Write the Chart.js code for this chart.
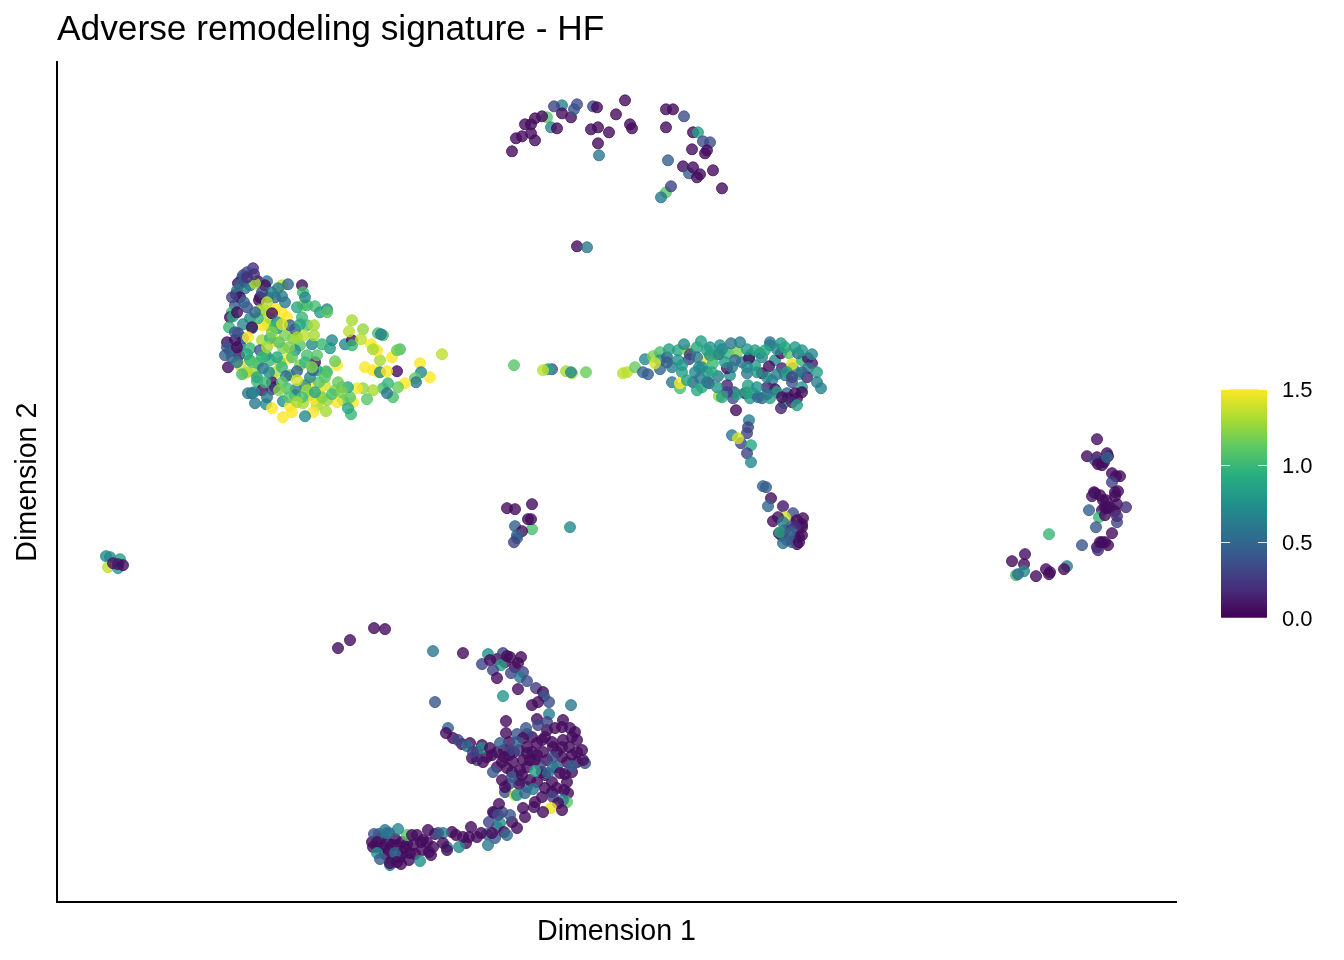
<!DOCTYPE html>
<html>
<head>
<meta charset="utf-8">
<title>Adverse remodeling signature - HF</title>
<script src="https://cdn.jsdelivr.net/npm/chart.js@4/dist/chart.umd.js"></script>
<style>
  body { margin: 0; background: #fff; }
  #wrap { position: relative; width: 1344px; height: 960px; overflow: hidden; }
  #umap { position: absolute; left: 0; top: 0; }
  #colorbar { position: absolute; left: 1200px; top: 361px; }
</style>
</head>
<body>
<div id="wrap">
  <canvas id="umap" width="1344" height="960"></canvas>
  <canvas id="colorbar" width="144" height="285"></canvas>
</div>
<script>
// Values. The axes have no numbers, so the units are arbitrary.
const chartTitle = 'Adverse remodeling signature - HF';
const xTitle = 'Dimension 1';
const yTitle = 'Dimension 2';
const legendTicks = [0, 0.5, 1, 1.5];

// large cluster on the left
const leftX = [211,243,228,213,198,233,263,278,253,238,268,243,205,213,183,193,
  385,363,373,364,358,359,348,340,335,343,340,323,321,308,316,323,330,336,341,326,331,330,316,306,310,300,296,293,286,294,291,291,285,280,281,270,269,260,256,257,262,253,262,269,260,280,278,273,275,288,295,295,292,295,306,304,314,320,316,321,326,324,
  258,253,255,250,257,257,247,236,238,250,260,265,270,246,258,263,270,270,250,245,246,248,
  196,190,185,186,193,188,181,179,178,190,201,210,208,198,203,211,202,225,231,225,221,203,208,218,225,230,215,175,173,176,193,186,201,195,195,220,220,218,233,238,181,186,178,170,191,205,218,213,226,193,203,173,168,182,209,231,223,171,183,188,190,185,201,206,218,225,240,256,229,200,215,218,205,215,195,191,239,230,248,198,209,215,226,233,226,248,246];
const leftY = [577,557,567,542,530,527,502,512,507,507,517,537,577,584,557,542,
  548,539,525,530,524,520,519,531,545,553,552,542,530,535,532,530,531,505,515,514,519,509,512,514,503,514,500,505,502,488,494,515,515,500,520,502,491,497,490,503,510,519,520,531,532,537,541,554,562,558,562,557,571,582,573,563,558,552,553,569,567,568,
  540,525,558,577,577,567,567,564,552,547,547,558,530,597,596,590,593,590,597,617,610,605,
  634,630,624,627,617,614,619,608,597,595,621,621,617,619,605,605,602,617,618,606,614,592,592,594,590,585,589,590,585,586,584,578,584,574,575,580,574,575,577,573,569,564,562,560,565,562,561,564,554,554,552,551,547,547,547,544,540,535,537,529,530,528,539,534,530,535,531,532,526,521,520,515,512,513,509,509,513,514,517,499,498,494,501,496,485,486,499];
const leftV = [1.35,1.1,1.2,1,1.3,1.1,1.5,1.2,1,0.9,1.4,1.2,1.5,1.3,0.6,0.9,
  1.35,1.5,1.5,0.7,1.15,0.6,1.5,0.05,1.5,1.05,1.15,1.3,1.5,1.5,1.5,0.7,1.5,1.05,1.15,1.05,1,0.6,1.3,1.25,1.1,1.5,1.5,1.1,1.1,1,0.9,0.9,1.1,1.5,1.15,1.25,1.3,1.3,1.5,1.5,1.5,1.5,1.1,1.1,0.85,1.5,1.15,0.8,0.7,0.7,0.05,1,1.35,1.3,1.25,1.35,1.5,1.5,1.3,1.05,1.05,0.65,
  0.05,0.7,0.7,1.05,1.3,1.3,1.35,1.2,0.7,1.05,1.1,1,1.05,1.3,1.05,0.85,0.7,1.1,1,0.05,1.05,0.7,
  0.2,0.35,0.6,0.35,0.6,0.65,0.05,0.05,0.4,0.35,0.05,0.6,0.05,1.3,0.05,0.4,0.05,1.35,0.5,0.6,0.65,1.3,1.3,1.5,1.5,1.5,0.05,1,0.05,0.9,0.7,0.7,1,0.9,0.05,0.7,0.8,1,0.45,0.4,0.3,0.45,0.05,0.05,1.5,1.3,1.5,1,1.2,1,0.4,0.5,0.45,0.05,0.8,1.5,1.25,0.05,1.4,1.5,1.3,1.05,1,0.55,1.3,1,0.45,0.5,0.5,1,0.05,0.05,0.05,0.25,0.3,0.6,0.6,1.05,0.7,0.6,0.7,1.5,0.75,1.5,1.5,0.7,1.3];
const leftFillX = [185,180,190,197,183,187,180,172,178,170,175,180,180,195,190,205,210,222,232,240,248,255,235,220,212,200,197,208,225,240,250,265,275,285,268,245,232,222,210,240,235,258,215,225,245,240,228,218,215,205,175,198,210,243];
const leftFillY = [620,612,625,628,605,600,590,575,570,555,545,555,540,540,548,545,555,560,555,565,540,535,545,545,530,525,510,520,520,522,512,505,508,510,525,505,505,512,505,500,490,510,570,578,585,595,600,605,610,610,605,590,600,578];
const leftFillV = [0.5,0.6,0.2,0.2,0.05,0.5,0.05,1,0.4,0.4,0.45,0.05,0.6,1.1,0.9,1,1.3,1.1,1.2,1.3,1,1.2,1.1,0.9,0.7,0.9,0.7,1,1.1,1.4,1.3,1.2,1.05,1.2,1.1,1.05,1.1,1.2,0.6,1.3,1.5,0.9,1.2,1.4,1,0.9,0.6,0.5,0.65,0.3,0.3,0.5,1.35,0.9];

// horizontal band right of centre
const bandX = [693,698,718,728,673,638,
  566,570,578,588,596,603,603,586,591,603,598,610,615,621,621,625,630,633,632,615,623,623,636,643,642,650,653,644,653,656,650,652,645,661,662,663,671,680,674,683,670,678,685,692,690,670,677,676,662,660,688,691,696,693,701,705,713,705,712,703,713,713,724,724,732,715,718,710,725,735,736,735,745,741,751,755,751,760,760,764,745,730,738,740,731,727,724,679];
const bandY = [547,537,542,527,527,530,
  529,530,535,543,546,550,542,530,528,533,539,545,535,552,542,530,552,548,543,520,514,519,520,524,535,544,547,561,555,539,530,519,515,526,548,557,549,550,559,560,534,542,540,544,529,517,510,504,506,515,509,517,509,504,505,504,504,529,536,549,560,557,559,549,549,522,513,515,534,520,534,538,542,549,544,539,534,530,520,514,515,509,509,504,504,499,494,492];
const bandV = [0.85,0.8,0.7,0.6,0.75,0.7,
  1.35,1.35,1.15,0.7,1.2,1.05,0.8,0.5,0.45,0.5,1.4,0.45,0.65,0.9,0.75,0.85,1.25,0.3,0.3,0.6,1.05,1.5,0.45,0.6,0.7,1.45,0.7,0.85,0.75,1,0.8,0.3,0.9,0.6,0.05,0.75,1,1.2,0.6,0.65,0.05,0.5,0.55,0.05,0.6,0.15,0.3,0.35,1.25,0.8,0.05,0.85,0.8,0.8,0.5,0.5,0.85,0.05,0.05,0.85,0.55,0.6,0.8,0.05,1.1,0.6,0.05,0.15,0.15,0.4,0.6,1.45,1,0.55,0.1,0.1,0.6,0.85,0.65,0.65,0.8,0.5,0.05,0.05,0.05,0.85,0.15,0.05];
const bandFillX = [612,627,640,650,660,665,690,698,705,708,720,728,738,745,755,610,625,640,645,655,668,675,690,700,710,720,730,742,750,745,735,720,710,700,690,680,670,665,650,640,630,725,735,740,745];
const bandFillY = [553,558,555,552,548,553,553,552,545,552,553,555,555,552,548,540,537,545,535,530,540,535,535,530,525,528,530,528,525,530,525,510,508,515,510,508,510,505,520,512,522,505,500,497,510];
const bandFillV = [0.85,0.7,0.9,0.85,0.9,0.7,0.8,0.85,0.7,0.9,0.7,0.9,0.8,0.8,0.7,0.45,0.8,0.6,0.7,0.9,0.8,0.6,0.7,0.8,0.7,0.65,0.85,0.9,0.15,0.5,0.3,0.85,0.6,0.75,0.9,0.85,0.3,0.85,0.6,0.9,0.85,0.05,0.15,0.85,0.05];

// tail running down from the band to the small blob
const tailX = [735,745,738,730,725,740,745,728,
  692,691,690,675,684,681,694,690,694,706,709,714,711,726,736,728,721,716,726,746,740,738,722,723,745,742,733,726,735,742];
const tailY = [378,375,365,362,366,358,378,372,
  482,475,469,467,459,464,457,449,440,416,415,404,396,396,389,385,385,381,380,384,382,375,369,370,367,365,370,359,360,360];
const tailV = [0.3,0.05,0.3,0.5,0.3,0.05,0.05,0.05,
  0.65,0.3,0.3,0.6,0.3,1.4,0.9,0.3,0.7,0.45,0.45,0.05,0.5,0.1,0.35,1.4,0.1,0.05,0.6,0.05,0.05,0.2,0.05,0.9,0.05,0.05,0.5,0.55,0.4,0.05];

// bottom arc
const arcX = [473,483,463,488,478,453,
  376,406,431,446,425,433,444,450,453,464,461,436,440,454,466,463,470,461,479,446,486,487,492,481,475,514,378,492,449,480,490,506,391,389,396,401,449,469,481,488,498,513,518,413,410,425,425,433,443,466,460,480,496,506,520,525,415,416,426,435,447,470,486,496,515,528,526,515,450,436,456,466,496,491,455,465,473,478,503,488,500,510,511,448,448,458,460,468,476,496,510,506,501,494,505,486,477,466,442,436,441,453,468];
const arcY = [142,137,132,127,142,152,
  251,249,248,249,238,242,237,246,245,245,239,232,224,229,230,225,221,213,214,206,210,206,200,200,197,197,200,188,181,183,180,182,174,169,164,162,169,174,177,165,174,174,170,159,156,157,154,154,159,164,160,159,155,162,162,152,144,150,140,147,145,149,150,145,147,139,142,136,134,130,140,142,135,129,125,127,122,131,129,114,114,120,109,110,115,107,107,109,113,105,100,102,99,94,92,90,95,94,98,90,87,87,85];
const arcV = [0.05,0.3,0.05,0.05,0.05,0.3,
  0.6,0.05,0.75,0.3,0.3,0.05,0.85,0.05,0.05,0.05,0.05,0.3,0.05,0.3,0.3,0.6,0.35,0.05,0.25,0.8,0.05,0.4,0.35,0.05,0.05,0.6,0.4,0.65,0.05,0.05,0.3,0.05,0.5,0.05,0.05,0.3,0.05,0.4,0.3,0.05,0.05,0.05,0.05,0.05,0.55,0.05,0.7,0.05,0.45,0.05,0.4,0.05,0.05,0.05,0.05,0.05,0.05,0.3,0.05,0.05,0.05,0.05,0.05,0.3,0.05,0.35,0.05,0.45,0.05,0.4,0.05,0.05,0.6,0.5,0.4,0.05,0.05,0.85,0.05,0.05,0.05,0.05,0.05,0.35,0.05,1.35,0.75,0.5,0.6,0.3,1.1,0.65,0.05,1.45,0.05,0.05,0.05,0.05,0.05,0.05,0.35,0.4,0.05];
const arcFillX = [440,447,452,457,462,470,475,480,490,500,505,510,520,512,505,495,485,475,460,452,445,440,430,420,405,420,455,462,470,480,485,495,500,508,515,520,507,495,485,470,462,452,445,478,515,505,490,470,440,448,458];
const arcFillY = [150,152,147,150,152,155,150,147,142,150,145,140,150,155,155,160,162,165,168,160,140,135,145,150,158,142,130,122,135,120,130,120,135,128,130,140,112,110,105,115,118,118,122,100,165,175,172,168,243,240,235];
const arcFillV = [0.05,0.05,0.05,0.05,0.3,0.05,0.05,0.05,0.05,0.05,0.05,0.05,0.05,0.05,0.05,0.05,0.05,0.05,0.4,0.05,0.05,0.05,0.05,0.05,0.05,0.3,0.05,0.4,0.05,0.05,0.05,0.05,0.5,0.05,0.05,0.05,0.05,0.05,0.05,0.4,0.05,0.4,0.05,0.05,0.05,0.05,0.05,0.3,0.05,0.05,0.05];

// low band joining the arc, plus the few outliers above it
const lowX = [437,455,443,460,447,450,438,435,431,424,420,414,406,409,399,402,390,390,386,381,386,371,376,374,366,365,363,350,360,355,356,346,341,332,330,317,320,316,326,335,340,320,323,338,333,333,340,344,353,348,281,293,317,328];
const lowY = [89,80,79,74,70,67,64,69,57,69,65,75,65,59,67,55,55,52,69,69,59,72,55,47,62,52,41,67,67,67,57,49,73,69,69,68,60,55,55,57,57,49,43,49,37,39,40,38,49,54,254,262,274,273];
const lowV = [0.3,0.05,0.75,0.05,0.05,0.55,0.4,0.05,0.6,0.05,0.05,0.05,0.05,0.05,0.05,0.7,0.6,0.05,0.65,0.4,0.05,0.05,0.05,0.05,0.05,0.05,0.75,1.1,0.05,0.05,0.05,0.05,0.7,0.45,0.6,0.4,0.05,0.05,0.05,0.05,0.05,0.75,0.45,0.5,0.6,0.05,0.05,0.05,0.05,0.05,0.05,0.05,0.05,0.05];
const lowFillX = [325,330,338,345,350,328,335,343,352,358,364,370,372,315,320,332,340,322,328,378,395,412,430,440,432,445];
const lowFillY = [65,60,63,60,58,48,42,45,42,48,60,60,50,60,55,52,48,68,72,68,70,65,68,75,80,90];
const lowFillV = [0.05,0.05,0.05,0.05,0.05,0.05,0.05,0.05,0.05,0.05,0.05,0.05,0.05,0.05,0.05,0.05,0.45,0.45,0.6,0.05,0.05,0.05,0.45,0.45,0.3,0.3];

// top arc
const topX = [455,459,465,478,474,468,474,490,478,485,494,500,505,497,505,514,517,520,536,540,534,541,552,541,542,559,568,573,575,609,616,627,609,636,641,646,653,635,648,650,611,626,632,636,640,643,656,665,609,614,604,520,530];
const topY = [751,764,766,762,769,778,778,785,784,786,775,774,797,796,789,785,793,798,796,795,773,775,770,759,747,788,802,778,774,793,793,786,775,770,770,761,760,753,749,752,742,736,729,735,725,728,732,714,710,716,705,656,655];
const topV = [0.05,0.05,0.05,0.05,0.05,0.05,0.05,1.1,0.05,0.05,0.7,0.05,0.65,0.3,0.05,0.05,0.4,0.35,0.35,0.05,0.05,0.05,0.05,0.05,0.6,0.05,0.05,0.05,0.05,0.05,0.05,0.35,0.05,0.05,0.85,0.35,0.35,0.05,0.05,0.05,0.45,0.05,0.45,0.05,0.05,0.05,0.05,0.05,1.1,0.3,0.6,0.05,0.6];

// crescent on the right
const rightX = [1040,1043,1047,1037,1046,1053,1060,1048,1045,1045,1040,
  1040,1030,1038,1050,1051,1041,1045,1050,1055,1063,1059,1055,1038,1035,1043,1058,1061,1058,1049,1069,1032,1042,1050,1058,1048,1060,1060,1039,1055,1041,1043,1048,1051,1025,992,968,955,967,967,959,961,989,993,992,979,1010,1007];
const rightY = [445,440,440,410,402,395,398,395,392,360,355,
  463,446,442,449,446,438,437,445,429,426,426,420,409,406,407,410,411,406,402,395,392,385,394,391,387,380,386,375,369,352,360,360,357,357,368,348,341,338,331,327,328,333,330,328,326,336,333];
const rightV = [0.05,0.05,0.05,0.05,0.05,0.05,0.05,0.05,0.05,0.05,0.05,
  0.05,0.05,0.3,0.05,0.05,0.05,0.05,0.5,0.05,0.05,0.05,0.3,0.05,0.1,0.05,0.05,0.05,0.05,0.05,0.2,0.45,1,0.05,0.05,0.05,0.3,0.2,0.4,0.05,0.2,0.05,0.05,0.05,0.4,1,0.05,0.05,0.05,0.7,1.05,0.55,0.05,0.05,0.05,0.05,0.65,0.05];

// small groups
const farLeftX = [49,53,51,63,61,56,61,66];
const farLeftY = [346,345,335,343,334,339,338,337];
const farLeftV = [0.7,0.7,1.35,0.85,0.8,0.1,0.1,0.05];
const centreX = [457,495,491,486,509,515,514,529];
const centreY = [537,533,533,532,531,529,530,530];
const centreV = [1.1,0.4,0.9,1.35,1.3,1.3,0.7,1.15];
const midX = [450,458,475,458,475,471,474,465,460,460,457,513];
const midY = [394,393,398,376,373,383,383,371,367,364,360,375];
const midV = [0.05,0.05,0.05,0.45,1.05,0.05,0.05,0.05,0.5,0.45,0.3,0.7];

const groups = [
  [leftFillX, leftFillY, leftFillV], [leftX, leftY, leftV],
  [bandFillX, bandFillY, bandFillV], [bandX, bandY, bandV], [tailX, tailY, tailV],
  [arcX, arcY, arcV], [arcFillX, arcFillY, arcFillV],
  [lowX, lowY, lowV], [lowFillX, lowFillY, lowFillV], [topX, topY, topV],
  [rightX, rightY, rightV], [farLeftX, farLeftY, farLeftV],
  [centreX, centreY, centreV], [midX, midY, midV]
];

const viridis = [
  [68, 1, 84], [71, 45, 123], [59, 82, 139], [44, 114, 142], [33, 145, 140],
  [40, 174, 128], [94, 201, 98], [173, 220, 48], [253, 231, 37]
];

function scoreColor(v, alpha) {
  const t = Math.min(Math.max(v / 1.5, 0), 1) * (viridis.length - 1);
  const i = Math.min(Math.floor(t), viridis.length - 2);
  const f = t - i;
  const rgb = viridis[i].map((c, k) => Math.round(c + (viridis[i + 1][k] - c) * f));
  return `rgba(${rgb[0]},${rgb[1]},${rgb[2]},${alpha})`;
}

const fontFamily = '"Liberation Sans", Arial, sans-serif';

new Chart(document.getElementById('umap'), {
  type: 'scatter',
  data: {
    datasets: groups.map(([xs, ys, vs]) => ({
      data: xs.map((x, i) => ({ x: x, y: ys[i] })),
      pointRadius: 5.5,
      pointBorderWidth: 1,
      pointBackgroundColor: vs.map(v => scoreColor(v, 0.8)),
      pointBorderColor: vs.map(v => scoreColor(v, 0.8))
    }))
  },
  options: {
    responsive: false,
    animation: false,
    layout: { padding: { right: 168 } },
    plugins: {
      legend: { display: false },
      tooltip: { enabled: false },
      title: {
        display: true,
        text: chartTitle,
        align: 'start',
        fullSize: false,
        color: '#000',
        font: { family: fontFamily, size: 35.3, weight: 'normal' },
        padding: { top: 9, bottom: 11 }
      }
    },
    scales: {
      x: {
        type: 'linear',
        min: 0,
        max: 1119,
        grid: { display: false },
        border: { color: '#000', width: 2 },
        ticks: { display: false },
        afterFit: s => { s.height = 58; },
        title: {
          display: true,
          text: xTitle,
          color: '#000',
          font: { family: fontFamily, size: 28.6 },
          padding: { top: 0, bottom: 11 }
        }
      },
      y: {
        type: 'linear',
        min: 0,
        max: 840,
        grid: { display: false },
        border: { color: '#000', width: 2 },
        ticks: { display: false },
        afterFit: s => { s.width = 57; },
        title: {
          display: true,
          text: yTitle,
          color: '#000',
          font: { family: fontFamily, size: 28.6 },
          padding: { top: 11, bottom: 0 }
        }
      }
    }
  }
});

// White notches on the colour bar, on both sides at each tick
const notches = {
  id: 'notches',
  afterDatasetsDraw(chart) {
    const { ctx, chartArea, scales } = chart;
    ctx.save();
    ctx.strokeStyle = 'rgba(255,255,255,0.85)';
    ctx.lineWidth = 1;
    legendTicks.forEach(v => {
      const y = Math.round(scales.y.getPixelForValue(v)) + 0.5;
      ctx.beginPath();
      ctx.moveTo(chartArea.left, y);
      ctx.lineTo(chartArea.left + 9, y);
      ctx.moveTo(chartArea.right - 9, y);
      ctx.lineTo(chartArea.right, y);
      ctx.stroke();
    });
    ctx.restore();
  }
};

new Chart(document.getElementById('colorbar'), {
  type: 'bar',
  data: {
    labels: ['score'],
    datasets: [{
      data: [[legendTicks[0], legendTicks[legendTicks.length - 1]]],
      barPercentage: 1,
      categoryPercentage: 1,
      backgroundColor(ctx) {
        const area = ctx.chart.chartArea;
        if (!area) return '#000';
        const g = ctx.chart.ctx.createLinearGradient(0, area.bottom, 0, area.top);
        viridis.forEach((c, i) => {
          g.addColorStop(i / (viridis.length - 1), `rgb(${c[0]},${c[1]},${c[2]})`);
        });
        return g;
      }
    }]
  },
  options: {
    responsive: false,
    animation: false,
    layout: { padding: { left: 21, top: 10, bottom: 13 } },
    plugins: { legend: { display: false }, tooltip: { enabled: false } },
    scales: {
      x: { display: false },
      y: {
        position: 'right',
        min: 0,
        max: 1.5,
        afterBuildTicks: s => { s.ticks = legendTicks.map(v => ({ value: v })); },
        afterFit: s => { s.width = 77; },
        grid: { display: false, drawTicks: false },
        border: { display: false },
        ticks: {
          color: '#000',
          padding: 15,
          labelOffset: 2,
          font: { family: fontFamily, size: 22 },
          callback: v => v.toFixed(1)
        }
      }
    }
  },
  plugins: [notches]
});
</script>
</body>
</html>
